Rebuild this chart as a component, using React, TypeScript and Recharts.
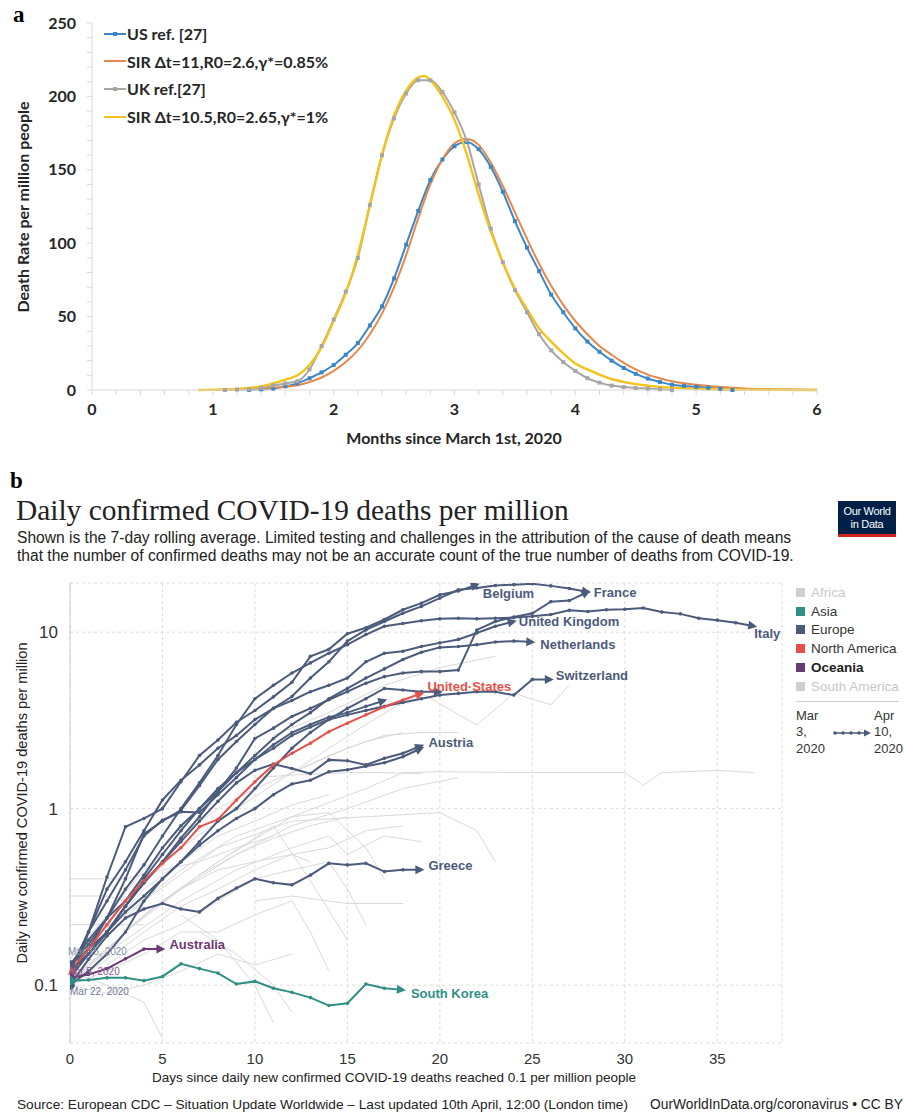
import React from "react";
import { LineChart, Line, XAxis, YAxis, CartesianGrid } from "recharts";

// ---------- panel a: months since March 1st 2020, death rate per million ----------
const usRef: [number, number][] = [
  [1.3, 0], [1.4, 0.5], [1.5, 1], [1.6, 2.5], [1.7, 4.5], [1.8, 8], [1.9, 12], [2.0, 17], [2.1, 24],
  [2.2, 32], [2.3, 44], [2.4, 57], [2.5, 76], [2.6, 99], [2.7, 122], [2.8, 143], [2.9, 157], [3.0, 166],
  [3.1, 169], [3.2, 164], [3.3, 152], [3.4, 135], [3.5, 115], [3.6, 97], [3.7, 81], [3.8, 65], [3.9, 53],
  [4.0, 42], [4.1, 33], [4.2, 26], [4.3, 20], [4.4, 15], [4.5, 11], [4.6, 7.8], [4.7, 5.5], [4.8, 3.6],
  [4.9, 2.8], [5.0, 2.2], [5.1, 1.5], [5.2, 0.8], [5.3, 0],
];
const sirUs: [number, number][] = [
  [1.0, 0], [1.2, 0.4], [1.4, 1], [1.6, 2.2], [1.7, 3.3], [1.8, 5.5], [1.9, 8.5], [2.0, 13], [2.1, 19],
  [2.2, 27], [2.3, 38], [2.4, 52], [2.5, 70], [2.6, 92], [2.7, 117], [2.8, 140], [2.9, 157], [3.0, 168],
  [3.1, 171], [3.2, 167], [3.3, 155], [3.4, 139], [3.5, 121], [3.6, 103], [3.7, 86], [3.8, 71], [3.9, 58],
  [4.0, 47], [4.1, 38], [4.2, 30], [4.3, 24], [4.4, 18.5], [4.5, 14], [4.6, 10.5], [4.7, 8], [4.8, 6],
  [4.9, 4.6], [5.0, 3.5], [5.2, 2], [5.4, 1.1], [5.6, 0.6], [5.8, 0.3], [6.0, 0.2],
];
const ukRef: [number, number][] = [
  [1.1, 0], [1.2, 0.3], [1.3, 0.5], [1.4, 1.5], [1.5, 3], [1.6, 4.5], [1.7, 6], [1.8, 14], [1.9, 30],
  [2.0, 48], [2.1, 67], [2.2, 90], [2.3, 126], [2.4, 160], [2.5, 185], [2.6, 202], [2.7, 211], [2.8, 211],
  [2.9, 203], [3.0, 189], [3.1, 170], [3.2, 140], [3.3, 110], [3.4, 87], [3.5, 68], [3.6, 53], [3.7, 38],
  [3.8, 27], [3.9, 19], [4.0, 13], [4.1, 8], [4.2, 5], [4.3, 3], [4.4, 2], [4.5, 1.3], [4.6, 1], [4.7, 0.5],
  [4.8, 0],
];
const sirUk: [number, number][] = [
  [0.88, 0], [1.0, 0.2], [1.2, 0.8], [1.4, 2.5], [1.5, 4.5], [1.6, 7], [1.7, 10], [1.8, 17], [1.9, 29],
  [2.0, 47], [2.1, 66], [2.2, 92], [2.3, 126], [2.4, 160], [2.5, 187], [2.6, 204], [2.7, 213], [2.75, 214],
  [2.8, 211], [2.9, 200], [3.0, 184], [3.1, 161], [3.2, 133], [3.3, 108], [3.4, 87], [3.5, 69], [3.6, 55],
  [3.7, 42], [3.8, 33], [3.9, 25], [4.0, 18], [4.1, 14], [4.2, 10.5], [4.3, 7.5], [4.4, 5.5], [4.5, 4],
  [4.6, 3], [4.8, 1.6], [5.0, 0.9], [5.5, 0.2], [6.0, 0],
];
const legendNamesA = ["US ref. [27]", "SIR \u0394t=11,R0=2.6,\u03b3*=0.85%", "UK ref.[27]", "SIR \u0394t=10.5,R0=2.65,\u03b3*=1%"];

// ---------- panel b: daily deaths per million, by days since 0.1 ----------
const belgium = [0.12, 0.2, 0.41, 0.79, 0.88, 1.0, 1.42, 2.0, 2.45, 3.09, 3.6, 4.3, 5.2, 7.3, 8.0, 9.8, 10.6, 11.8, 13.4, 14.6, 16.3, 17.1, 18.6];
const spain = [0.13, 0.16, 0.24, 0.4, 0.72, 0.85, 0.98, 1.35, 1.9, 2.4, 3.0, 3.71, 4.32, 5.5, 6.8, 8.9, 10.3, 11.5, 12.8, 14.0, 15.6, 17.4, 17.8, 18.4, 18.6, 18.8, 18.3, 17.7, 16.9];
const france = [0.12, 0.15, 0.2, 0.28, 0.38, 0.5, 0.68, 0.9, 1.25, 1.7, 2.5, 2.86, 3.33, 3.7, 4.14, 4.6, 5.14, 5.6, 5.87, 5.98, 5.98, 6.1, 10.3, 11.5, 12.2, 12.8, 14.9, 15.1, 16.9];
const italy = [0.13, 0.17, 0.24, 0.35, 0.48, 0.7, 1.0, 1.4, 2.0, 3.0, 4.2, 5.0, 5.87, 6.7, 7.6, 8.5, 9.7, 10.8, 11.2, 11.6, 11.9, 12.0, 11.9, 12.0, 12.1, 12.3, 12.6, 13.3, 13.1, 13.4, 13.5, 13.7, 13.0, 12.7, 12.0, 11.7, 11.3, 10.8];
const uk = [0.1, 0.2, 0.35, 0.5, 0.75, 1.12, 1.45, 1.77, 2.2, 2.6, 3.2, 3.7, 4.1, 4.6, 5.0, 5.5, 6.8, 7.6, 7.8, 8.3, 8.7, 9.1, 9.9, 10.8, 11.5];
const netherlands = [0.12, 0.16, 0.2, 0.28, 0.4, 0.55, 0.75, 1.0, 1.3, 1.6, 2.0, 2.5, 3.0, 3.5, 4.2, 4.8, 5.5, 6.2, 7.0, 7.7, 8.2, 8.3, 8.5, 8.8, 8.9, 8.8];
const switzerland = [0.13, 0.18, 0.24, 0.3, 0.42, 0.6, 0.8, 1.0, 1.25, 1.6, 1.9, 2.2, 2.6, 2.9, 3.2, 3.4, 3.6, 3.8, 4.0, 4.2, 4.4, 4.5, 4.6, 4.6, 4.4, 5.4, 5.4];
const austria = [0.11, 0.15, 0.2, 0.28, 0.38, 0.5, 0.65, 0.85, 1.1, 1.4, 1.65, 1.79, 1.69, 1.58, 1.89, 1.87, 1.77, 1.93, 2.06, 2.27];
const portugal = [0.1, 0.12, 0.15, 0.2, 0.3, 0.4, 0.5, 0.62, 0.75, 0.88, 1.0, 1.2, 1.38, 1.45, 1.62, 1.66, 1.74, 1.82, 1.97, 2.2];
const sweden = [0.12, 0.15, 0.2, 0.26, 0.32, 0.4, 0.5, 0.65, 0.85, 1.0, 1.3, 1.7, 2.2, 2.7, 3.2, 3.7, 4.2, 4.8, 4.7, 4.6, 4.6];
const denmark = [0.12, 0.2, 0.3, 0.45, 0.7, 0.86, 0.96, 0.95, 1.2, 1.5, 1.9, 2.3, 2.7, 3.0, 3.3, 3.5, 3.8, 4.1];
const greece = [0.1, 0.14, 0.19, 0.24, 0.27, 0.29, 0.27, 0.26, 0.31, 0.355, 0.4, 0.38, 0.37, 0.42, 0.49, 0.48, 0.49, 0.44, 0.45, 0.45];
const unitedStates = [0.12, 0.16, 0.22, 0.3, 0.39, 0.49, 0.6, 0.79, 0.87, 1.12, 1.42, 1.77, 2.06, 2.35, 2.73, 3.05, 3.4, 3.78, 4.13, 4.5];
const australia = [0.11, 0.115, 0.124, 0.141, 0.16, 0.16];
const southKorea = [0.106, 0.107, 0.11, 0.11, 0.106, 0.112, 0.132, 0.124, 0.117, 0.1015, 0.105, 0.096, 0.091, 0.085, 0.0766, 0.079, 0.1015, 0.096, 0.094];

// other countries (grey), [day, value]
const otherCountries: [number, number][][] = [
  [[0, 0.1], [3, 0.2], [6, 0.35], [9, 0.55], [12, 0.8], [15, 1.0], [18, 1.3], [21, 1.5]],
  [[0, 0.1], [4, 0.25], [8, 0.5], [12, 0.9], [16, 1.3], [18, 1.6], [20, 1.62], [25, 1.6], [30, 1.6], [31, 1.36], [32, 1.6], [35, 1.65], [37, 1.6]],
  [[12, 1.6], [14, 2.2], [16, 3.0], [18, 4.0], [19, 4.5], [22, 2.98], [24, 4.5], [26, 3.88], [27, 5.0]],
  [[11, 2.6], [14, 3.5], [17, 5.0], [20, 6.3], [23, 7.3]],
  [[0, 0.13], [3, 0.3], [6, 0.6], [9, 1.0], [12, 1.6], [15, 2.2], [17, 2.6], [19, 2.7], [21, 2.7]],
  [[10, 1.5], [12, 1.55], [15, 1.6], [17, 1.6], [19, 1.58]],
  [[5, 0.3], [8, 0.5], [11, 0.8], [13, 0.39], [15, 0.18]],
  [[0, 0.12], [2, 0.1], [4, 0.08], [5, 0.05]],
  [[6, 0.25], [8, 0.18], [10, 0.1], [11, 0.061]],
  [[0, 0.32], [1, 0.32], [2, 0.32], [3, 0.3]],
  [[0, 0.22], [2, 0.22], [4, 0.22]],
  [[0, 0.4], [3, 0.4], [5, 0.45], [7, 0.5], [9, 0.6], [11, 0.7]],
  [[0, 0.1], [2, 0.14], [4, 0.2], [6, 0.28], [8, 0.35], [10, 0.45], [12, 0.55], [14, 0.6], [16, 0.75], [18, 0.8]],
  [[0, 0.11], [3, 0.18], [6, 0.3], [9, 0.45], [12, 0.6], [14, 0.7], [15, 0.55], [17, 0.7], [19, 0.65]],
  [[0, 0.1], [2, 0.12], [4, 0.15], [6, 0.2], [8, 0.2], [10, 0.25], [12, 0.3], [13, 0.2], [14, 0.12]],
  [[0, 0.12], [4, 0.3], [8, 0.6], [12, 0.85], [16, 0.9], [20, 0.95], [22, 0.75], [23, 0.5]],
  [[10, 0.3], [12, 0.32], [15, 0.29], [18, 0.29]],
  [[0, 0.14], [2, 0.25], [4, 0.45], [6, 0.7], [8, 1.0], [10, 1.3], [12, 1.6], [14, 2.0], [16, 2.4], [18, 2.7]],
  [[0, 0.1], [1, 0.13], [3, 0.2], [5, 0.3], [7, 0.42], [9, 0.55], [11, 0.68], [13, 0.8], [15, 0.9]],
  [[7, 0.2], [9, 0.15], [11, 0.1], [12, 0.07]],
  [[0, 0.15], [3, 0.25], [6, 0.45], [9, 0.7], [12, 0.9], [14, 0.95], [16, 0.6], [17, 0.4]],
  [[0, 0.11], [2, 0.16], [4, 0.25], [6, 0.35], [8, 0.45], [10, 0.5], [12, 0.55], [13, 0.5]],
  [[2, 0.13], [4, 0.18], [6, 0.22], [8, 0.3], [10, 0.4], [12, 0.45], [14, 0.5], [15, 0.35], [16, 0.22]],
  [[0, 0.13], [2, 0.2], [4, 0.35], [6, 0.5], [8, 0.7], [10, 0.85], [12, 1.05], [14, 1.2]],
  [[0, 0.1], [2, 0.09], [4, 0.1], [6, 0.12], [8, 0.15], [10, 0.13], [12, 0.15]],
];

const continents = [
  { name: "Africa", color: "#cfcfcf", text: "#c8c8c8", bold: false },
  { name: "Asia", color: "#2f8f85", text: "#333", bold: false },
  { name: "Europe", color: "#4b5b7b", text: "#333", bold: false },
  { name: "North America", color: "#e6504a", text: "#333", bold: false },
  { name: "Oceania", color: "#6b3a73", text: "#222", bold: true },
  { name: "South America", color: "#cfcfcf", text: "#c8c8c8", bold: false },
];

const SLATE = "#4b5b7b";
const RED = "#e6504a";
const PURPLE = "#6b3a73";
const TEAL = "#2f8f85";
const GREY = "#d9d9d9";

const A_COLORS = ["#3a86c6", "#e8874a", "#a6a6a6", "#f3c21b"];

const pairs = (arr: [number, number][]) => arr.map(([m, v]) => ({ m, v }));
const byDay = (arr: number[]) => arr.map((v, d) => ({ d, v }));
const dayPairs = (arr: [number, number][]) => arr.map(([d, v]) => ({ d, v }));

const monthTicks = Array.from({ length: 31 }, (_, i) => Math.round(i * 2) / 10);
const rateTicks = Array.from({ length: 26 }, (_, i) => i * 10);

const squareDot = (color: string) => (p: any) =>
  p.cx == null ? <g key={`s-${p.index}`} /> : (
    <rect key={`s-${p.index}`} x={p.cx - 2} y={p.cy - 2} width={4} height={4} fill={color} />
  );

type LabelStyle = { text: string; dx: number; dy: number };

const countryDot = (color: string, label?: LabelStyle, arrow = true) => (p: any) => {
  const { cx, cy, index, points } = p;
  const key = `c-${index}`;
  if (cx == null || cy == null) return <g key={key} />;
  const n = points ? points.length : 0;
  if (arrow && n > 1 && index === n - 1) {
    const prev = points[n - 2];
    const a = Math.atan2(cy - prev.y, cx - prev.x);
    const c = Math.cos(a);
    const s = Math.sin(a);
    const tx = cx + 3 * c;
    const ty = cy + 3 * s;
    const bx = tx - 9 * c;
    const by = ty - 9 * s;
    const pts = `${tx},${ty} ${bx + 4.5 * s},${by - 4.5 * c} ${bx - 4.5 * s},${by + 4.5 * c}`;
    return (
      <g key={key}>
        <polygon points={pts} fill={color} />
        {label && (
          <text x={cx + label.dx} y={cy + label.dy} dominantBaseline="central" fill={color} fontSize={13} fontWeight={700} fontFamily="Liberation Sans, Arial, sans-serif">
            {label.text}
          </text>
        )}
      </g>
    );
  }
  if (index === 0) return <circle key={key} cx={cx} cy={cy} r={4.5} fill={color} />;
  return <circle key={key} cx={cx} cy={cy} r={1.8} fill={color} />;
};

const highlighted = [
  { data: spain, color: SLATE },
  { data: denmark, color: SLATE },
  { data: sweden, color: SLATE },
  { data: portugal, color: SLATE },
  { data: austria, color: SLATE, label: { text: "Austria", dx: 7, dy: -3 } },
  { data: greece, color: SLATE, label: { text: "Greece", dx: 7, dy: -4 } },
  { data: switzerland, color: SLATE, label: { text: "Switzerland", dx: 5, dy: -4 } },
  { data: netherlands, color: SLATE, label: { text: "Netherlands", dx: 8, dy: 3 } },
  { data: uk, color: SLATE, label: { text: "United Kingdom", dx: 5, dy: 0 } },
  { data: france, color: SLATE, label: { text: "France", dx: 6, dy: 1 } },
  { data: belgium, color: SLATE, label: { text: "Belgium", dx: 6, dy: 9 } },
  { data: italy, color: SLATE, label: { text: "Italy", dx: 0, dy: 7 } },
  { data: unitedStates, color: RED, label: { text: "United\u00b7States", dx: 6, dy: -7 } },
  { data: australia, color: PURPLE, label: { text: "Australia", dx: 7, dy: -5 } },
  { data: southKorea, color: TEAL, label: { text: "South Korea", dx: 8, dy: 4 } },
];

const SANS = "Liberation Sans, Arial, sans-serif";
const CAL = "Lato, 'Open Sans', sans-serif";

function LegendA() {
  return (
    <div style={{ position: "absolute", left: 104, top: 20, fontFamily: CAL, fontWeight: 700, fontSize: 16, color: "#262626" }}>
      {legendNamesA.map((name, i) => (
        <div key={name} style={{ display: "flex", alignItems: "center", height: 27.6, whiteSpace: "nowrap" }}>
          <svg width={22} height={10} style={{ marginRight: 1 }}>
            <line x1={0} y1={5} x2={22} y2={5} stroke={A_COLORS[i]} strokeWidth={2} />
            {i % 2 === 0 && <rect x={9} y={3} width={4} height={4} fill={A_COLORS[i]} />}
          </svg>
          <span>{name}</span>
        </div>
      ))}
    </div>
  );
}

export default function App() {
  return (
    <div style={{ position: "absolute", left: 0, top: 0, width: 904, height: 1116, background: "#fff", overflow: "hidden" }}>
      <div style={{ position: "absolute", left: 13, top: 2, fontFamily: "Liberation Serif, serif", fontWeight: 700, fontSize: 23 }}>a</div>

      <div style={{ position: "absolute", left: 0, top: 0 }}>
        <LineChart width={904} height={460} margin={{ top: 23, right: 87, bottom: 10, left: 12 }}>
          <XAxis
            dataKey="m"
            type="number"
            domain={[0, 6]}
            ticks={monthTicks}
            interval={0}
            tickFormatter={(v: number) => (Math.abs(v - Math.round(v)) < 1e-6 ? String(Math.round(v)) : "")}
            axisLine={{ stroke: "#d9d9d9" }}
            tickLine={{ stroke: "#d9d9d9" }}
            tickSize={5}
            tickMargin={9}
            height={60}
            tick={{ fill: "#262626", fontSize: 16, fontWeight: 700, fontFamily: CAL }}
            label={{
              content: () => (
                <text x={454} y={444} textAnchor="middle" fill="#262626" fontSize={16} fontWeight={700} fontFamily={CAL}>
                  Months since March 1st, 2020
                </text>
              ),
            }}
          />
          <YAxis
            type="number"
            domain={[0, 250]}
            ticks={rateTicks}
            interval={0}
            tickFormatter={(v: number) => (v % 50 === 0 ? String(v) : "")}
            axisLine={{ stroke: "#d9d9d9" }}
            tickLine={{ stroke: "#d9d9d9" }}
            tickSize={5}
            tickMargin={11}
            width={80}
            tick={{ fill: "#262626", fontSize: 16, fontWeight: 700, fontFamily: CAL }}
            label={{
              content: () => (
                <text x={22} y={207} transform="rotate(-90, 22, 207)" textAnchor="middle" dominantBaseline="central" fill="#262626" fontSize={16} fontWeight={700} fontFamily={CAL}>
                  Death Rate per million people
                </text>
              ),
            }}
          />
          <Line data={pairs(usRef)} dataKey="v" name={legendNamesA[0]} stroke={A_COLORS[0]} strokeWidth={2} type="monotone" dot={squareDot(A_COLORS[0])} activeDot={false} isAnimationActive={false} />
          <Line data={pairs(sirUs)} dataKey="v" name={legendNamesA[1]} stroke={A_COLORS[1]} strokeWidth={2} type="monotone" dot={false} activeDot={false} isAnimationActive={false} />
          <Line data={pairs(ukRef)} dataKey="v" name={legendNamesA[2]} stroke={A_COLORS[2]} strokeWidth={2} type="monotone" dot={squareDot(A_COLORS[2])} activeDot={false} isAnimationActive={false} />
          <Line data={pairs(sirUk)} dataKey="v" name={legendNamesA[3]} stroke={A_COLORS[3]} strokeWidth={2.4} type="monotone" dot={false} activeDot={false} isAnimationActive={false} />
        </LineChart>
      </div>
      <LegendA />

      <div style={{ position: "absolute", left: 10, top: 468, fontFamily: "Liberation Serif, serif", fontWeight: 700, fontSize: 23 }}>b</div>
      <div style={{ position: "absolute", left: 16, top: 494, fontFamily: "Liberation Serif, serif", fontSize: 29.4, color: "#222", whiteSpace: "nowrap" }}>
        Daily confirmed COVID-19 deaths per million
      </div>
      <div style={{ position: "absolute", left: 17, top: 529, fontFamily: SANS, fontSize: 15.6, lineHeight: "18px", color: "#222", whiteSpace: "nowrap" }}>
        Shown is the 7-day rolling average. Limited testing and challenges in the attribution of the cause of death means
        <br />
        that the number of confirmed deaths may not be an accurate count of the true number of deaths from COVID-19.
      </div>
      <div style={{ position: "absolute", left: 838, top: 501, width: 58, height: 36, background: "#002147", borderBottom: "3px solid #ce261e", boxSizing: "border-box", color: "#fff", fontFamily: SANS, fontSize: 11, lineHeight: "13px", textAlign: "center", paddingTop: 4, letterSpacing: -0.3 }}>
        Our World
        <br />
        in Data
      </div>

      <div style={{ position: "absolute", left: 0, top: 570 }}>
        <LineChart width={904} height={530} margin={{ top: 13, right: 122, bottom: 12, left: 20 }}>
          <CartesianGrid strokeDasharray="3 3" stroke="#dcdcdc" />
          <XAxis
            dataKey="d"
            type="number"
            domain={[0, 38.5]}
            ticks={[0, 5, 10, 15, 20, 25, 30, 35]}
            allowDataOverflow
            axisLine={false}
            tickLine={false}
            tickMargin={4}
            height={45}
            tick={{ fill: "#333", fontSize: 15, fontFamily: SANS }}
            label={{
              content: () => (
                <text x={394} y={1082 - 570} textAnchor="middle" fill="#222" fontSize={13.5} fontFamily={SANS}>
                  Days since daily new confirmed COVID-19 deaths reached 0.1 per million people
                </text>
              ),
            }}
          />
          <YAxis
            type="number"
            scale="log"
            domain={[0.047, 19]}
            allowDataOverflow
            ticks={[0.1, 1, 10]}
            tickFormatter={(v: number) => String(v)}
            axisLine={{ stroke: "#cccccc" }}
            tickLine={false}
            tickMargin={6}
            width={50}
            tick={{ fill: "#333", fontSize: 17, fontFamily: SANS }}
            label={{
              content: () => (
                <text x={22} y={803 - 570} transform={`rotate(-90, 22, ${803 - 570})`} textAnchor="middle" dominantBaseline="central" fill="#222" fontSize={14.6} fontFamily={SANS}>
                  Daily new confirmed COVID-19 deaths per million
                </text>
              ),
            }}
          />
          {otherCountries.map((c, i) => (
            <Line key={`g${i}`} data={dayPairs(c)} dataKey="v" stroke={GREY} strokeWidth={1} type="linear" dot={false} activeDot={false} isAnimationActive={false} />
          ))}
          {highlighted.map((h, i) => (
            <Line
              key={`h${i}`}
              data={byDay(h.data)}
              dataKey="v"
              stroke={h.color}
              strokeWidth={2}
              type="linear"
              dot={countryDot(h.color, h.label)}
              activeDot={false}
              isAnimationActive={false}
            />
          ))}
        </LineChart>
      </div>

      <div style={{ position: "absolute", left: 68, top: 946, fontFamily: SANS, fontSize: 10, color: "#8791a8" }}>Mar 15, 2020</div>
      <div style={{ position: "absolute", left: 68, top: 966, fontFamily: SANS, fontSize: 10, color: "#8a5a8f" }}>Apr 5, 2020</div>
      <div style={{ position: "absolute", left: 70, top: 986, fontFamily: SANS, fontSize: 10, color: "#6f7a95" }}>Mar 22, 2020</div>

      <div style={{ position: "absolute", left: 796, top: 583, fontFamily: SANS, fontSize: 13.5 }}>
        {continents.map((c) => (
          <div key={c.name} style={{ display: "flex", alignItems: "center", height: 18.8, color: c.text, fontWeight: c.bold ? 700 : 400 }}>
            <span style={{ display: "inline-block", width: 9, height: 9, background: c.color, marginRight: 6 }} />
            {c.name}
          </div>
        ))}
        <div style={{ width: 103, borderTop: "1px solid #cfcfcf", marginTop: 5 }} />
        <div style={{ position: "relative", height: 56, marginTop: 6, fontSize: 13, color: "#333", lineHeight: "16.5px" }}>
          <div style={{ position: "absolute", left: 0, top: 0 }}>Mar<br />3,<br />2020</div>
          <svg style={{ position: "absolute", left: 36, top: 20 }} width={40} height={10}>
            <line x1={2} y1={5} x2={34} y2={5} stroke={SLATE} strokeWidth={1.5} />
            {[3, 11, 19, 27].map((x) => <circle key={x} cx={x} cy={5} r={1.8} fill={SLATE} />)}
            <polygon points="39,5 32,1.5 32,8.5" fill={SLATE} />
          </svg>
          <div style={{ position: "absolute", left: 78, top: 0 }}>Apr<br />10,<br />2020</div>
        </div>
      </div>

      <div style={{ position: "absolute", left: 17, top: 1097, fontFamily: SANS, fontSize: 13.65, color: "#222", whiteSpace: "nowrap" }}>
        Source: European CDC – Situation Update Worldwide – Last updated 10th April, 12:00 (London time)
      </div>
      <div style={{ position: "absolute", right: 1, top: 1097, fontFamily: SANS, fontSize: 13.8, color: "#222", whiteSpace: "nowrap" }}>
        OurWorldInData.org/coronavirus • CC BY
      </div>
    </div>
  );
}
